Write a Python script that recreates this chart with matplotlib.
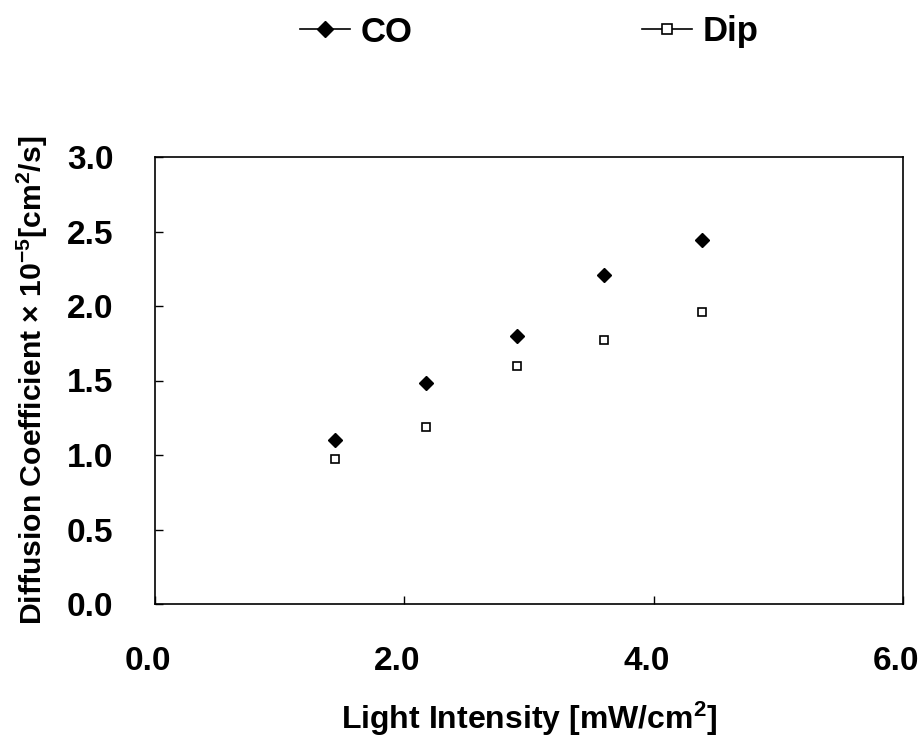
import matplotlib
matplotlib.use("Agg")
import matplotlib.pyplot as plt
import matplotlib.transforms as mtransforms
from matplotlib.lines import Line2D

plt.rcParams["font.family"] = ["Liberation Sans", "DejaVu Sans"]
plt.rcParams["font.weight"] = "bold"
plt.rcParams["mathtext.fontset"] = "custom"
plt.rcParams["mathtext.bf"] = "Liberation Sans:bold"
plt.rcParams["mathtext.rm"] = "Liberation Sans:bold"
plt.rcParams["mathtext.default"] = "bf"

# light intensity [mW/cm2]
intensity = [1.44, 2.17, 2.90, 3.60, 4.39]
co_vals = [1.10, 1.48, 1.80, 2.21, 2.44]
dip_vals = [0.97, 1.19, 1.60, 1.77, 1.96]
x_ticks = [0.0, 2.0, 4.0, 6.0]
y_ticks = [0.0, 0.5, 1.0, 1.5, 2.0, 2.5, 3.0]

fig = plt.figure(figsize=(9.23, 7.39), dpi=100)
ax = fig.add_axes([155 / 923, 1 - 604 / 739, 748 / 923, 447 / 739])

ax.plot(intensity, co_vals, linestyle="none", marker="D", markersize=7.5,
        color="black")
ax.plot(intensity, dip_vals, linestyle="none", marker="s", markersize=6.3,
        markerfacecolor="white", markeredgecolor="black", markeredgewidth=1.2)

ax.set_xlim(0, 6)
ax.set_ylim(0, 3)
ax.set_xticks(x_ticks)
ax.set_yticks(y_ticks)
ax.set_xticklabels([f"{v:.1f}" for v in x_ticks])
ax.set_yticklabels([f"{v:.1f}" for v in y_ticks])
ax.tick_params(axis="both", direction="in", length=6, width=1)
ax.tick_params(axis="y", labelsize=24, pad=30)
ax.tick_params(axis="x", labelsize=24, pad=30)
for sp in ax.spines.values():
    sp.set_linewidth(1.2)

# x tick labels sit a bit left of their ticks in the original
shift = mtransforms.ScaledTranslation(-7 / 100, 0, fig.dpi_scale_trans)
for lab in ax.get_xticklabels():
    lab.set_transform(lab.get_transform() + shift)

ax.set_xlabel("Light Intensity [mW/cm$^{2}$]", fontsize=23, fontweight="bold")
ax.set_ylabel("Diffusion Coefficient \u00d7 10$^{-5}$[cm$^{2}$/s]", fontsize=21.7,
              fontweight="bold")
ax.xaxis.set_label_coords(0.5, -0.215)
ax.yaxis.set_label_coords(-0.140, 0.5)

handles = [
    Line2D([], [], color="black", lw=1.2, marker="D", markersize=8.5),
    Line2D([], [], color="black", lw=1.2, marker="s", markersize=7.5,
           markerfacecolor="white", markeredgewidth=1.2),
]
fig.legend(handles, ["CO", "Dip"], loc="center", bbox_to_anchor=(529 / 923, 1 - 32 / 739),
           ncol=2, frameon=False, prop={"size": 25, "weight": "bold"},
           handlelength=1.45, handletextpad=0.3, columnspacing=6.6)

fig.savefig("out.png", dpi=100)
